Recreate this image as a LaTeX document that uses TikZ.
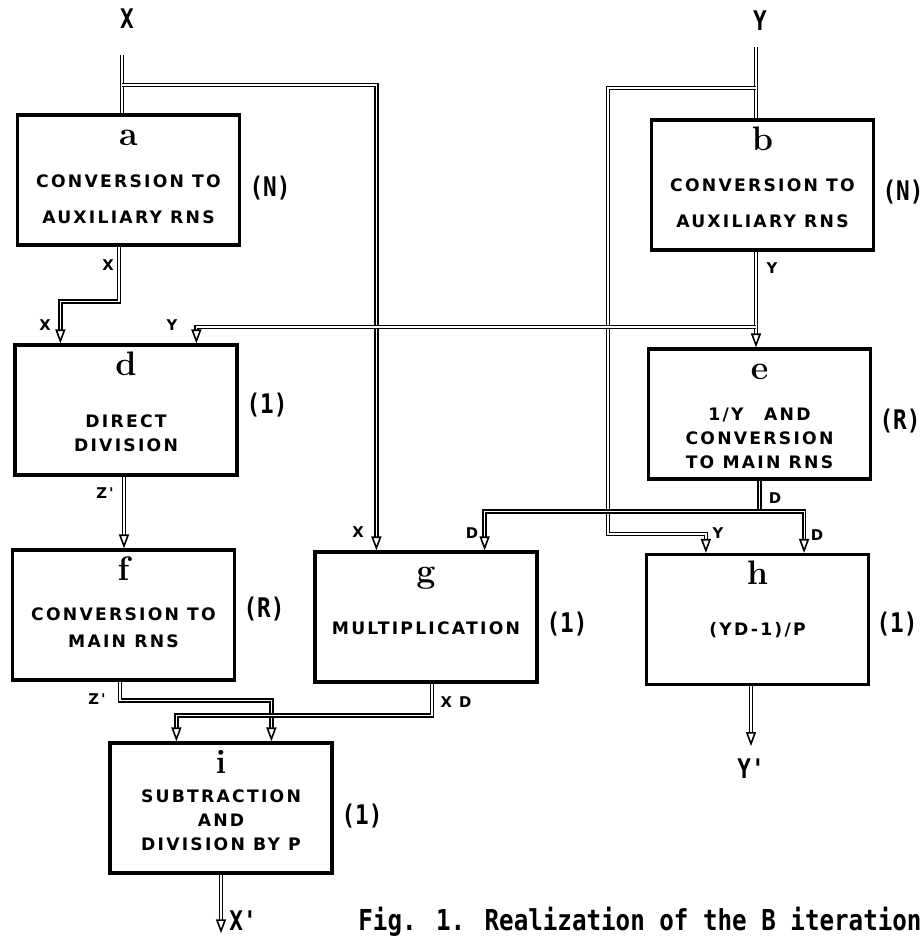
\documentclass[tikz,border=0pt]{standalone}
\usepackage{fontspec}
\usetikzlibrary{positioning}
\usetikzlibrary{arrows.meta,calc}
\newfontfamily\boxfont[LetterSpace=13]{DejaVu Sans}
\newfontfamily\capfont[FakeStretch=0.84]{DejaVu Sans Mono}
\tikzstyle{block}=[rectangle,draw,line width=1.6pt,minimum width=111pt,minimum height=65pt,inner sep=0pt]
\tikzstyle{tag}=[font=\fontsize{17}{17}\selectfont\bfseries,anchor=base]
\tikzstyle{blocktext}=[font=\boxfont\bfseries\fontsize{8.6}{12}\selectfont,align=center,inner sep=0pt]
\tikzstyle{sig}=[font=\boxfont\bfseries\fontsize{7.4}{8}\selectfont,inner sep=0pt]
\tikzstyle{port}=[font=\capfont\bfseries\fontsize{13.5}{14}\selectfont,inner sep=1pt]
\tikzstyle{bus}=[draw,double,double distance=0.6pt,line width=0.8pt]
\tikzstyle{busto}=[bus,-{Triangle[open,length=7pt,width=5pt]}]

\begin{document}
\begin{tikzpicture}[x=0.5pt,y=-0.5pt]

  \useasboundingbox (0,0) rectangle (923,939);

  % blocks
  \foreach \x/\y/\name in {128.5/180/a, 762.5/185/b, 126/410/d, 759.5/414/e,
                           123.5/615/f, 426/617/g, 757.5/619.5/h, 221/808/i}
     \node[block] (\name) at (\x,\y) {};

  \foreach \name in {a,b,d,e,f,g,h,i}
     \node[tag] (\name-tag) at ($(\name.north)+(0,32)$) {\name};

  \foreach \name/\dy/\txt in {a/19/{CONVERSION TO\\[6pt]AUXILIARY RNS},
                              b/18/{CONVERSION TO\\[6pt]AUXILIARY RNS},
                              d/23.5/{DIRECT\\DIVISION},
                              e/24/{1/Y\hspace{1.2em}AND\\CONVERSION\\TO MAIN RNS},
                              f/13/{CONVERSION TO\\[1.5pt]MAIN RNS},
                              g/11/{MULTIPLICATION},
                              h/10.5/{(YD-1)/P},
                              i/12/{SUBTRACTION\\AND\\DIVISION BY P}}
     \node[blocktext] (\name-text) at ($(\name.center)+(0,\dy)$) {\txt};

  % number of cycles
  \foreach \x/\y/\name/\label in {270/188/a/(N), 903/192/b/(N), 267/405/d/(1), 900/421/e/(R),
                                  264/609/f/(R), 567/624/g/(1), 897/624/h/(1), 362/816/i/(1)}
     \node[port] (\name-mode) at (\x,\y) {\label};

  % inputs and outputs
  \node[port] (inX) at (127,19) {X};
  \node[port] (inY) at (760,21) {Y};
  \node[port] (outX) at (243,921) {X'};
  \node[port] (outY) at (751,769) {Y'};

  \coordinate (xin) at (122,55);
  \coordinate (xsplit) at (122,85);
  \coordinate (yin) at (756,47);
  \coordinate (ysplit) at (756,88);
  \coordinate (ysplit2) at (756,327);

  \draw[bus] (xin) -- (xin |- a.north);
  \draw[busto] (xsplit) -| ($(g.north west)+(63,0)$);
  \draw[busto] ($(a.south)+(-9.5,0)$) -- ++(0,55) -| ($(d.north west)+(47,0)$);

  \draw[bus] (yin) -- (yin |- b.north);
  \draw[busto] (ysplit) -| ($(h.north west)+(-37,-19)$) -| ($(h.north west)+(61,0)$);
  \draw[busto] (yin |- b.south) -- (yin |- e.north);
  \draw[busto] (ysplit2) -| ($(d.north west)+(183,0)$);

  \draw[bus] (e.south) -- ++(0,31) coordinate (dsplit);
  \draw[busto] (dsplit) -| ($(g.north east)+(-54,0)$);
  \draw[busto] (dsplit) -| ($(h.north east)+(-66,0)$);

  \draw[busto] ($(d.south)+(-2,0)$) -- ($(f.north)+(0.5,0)$);
  \draw[busto] ($(f.south)+(-3.5,0)$) -- ++(0,19) -| ($(i.north west)+(163,0)$);
  \draw[busto] ($(g.south)+(6,0)$) -- ++(0,32) -| ($(i.north west)+(68,0)$);

  \draw[busto] (i.south) -- (i.south |- outX.south);
  \draw[busto] (outY |- h.south) -- ++(0,60);

  % signal names
  \foreach \x/\y/\name/\label in {108/265/sx1/X, 45/325/sx2/X, 172/325/sy1/Y, 772/268/sy2/Y,
                                  358/532/sx3/X, 472/533/sd1/D, 775/498/sd2/D, 718/533/sy3/Y,
                                  817/535/sd3/D, 105/493/sz1/Z', 97/699/sz2/Z', 456/702/sxd/X D}
     \node[sig] (\name) at (\x,\y) {\label};

  \node[font=\capfont\bfseries\fontsize{14.4}{15}\selectfont,inner sep=0pt] (caption) at (640,922)
       {Fig. 1. Realization of the B iteration};

\end{tikzpicture}
\end{document}
